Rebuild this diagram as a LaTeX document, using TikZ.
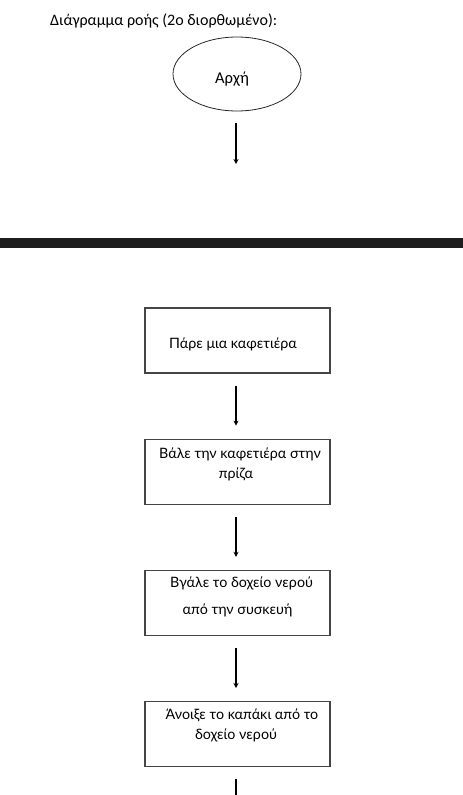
\documentclass[tikz,border=0pt]{standalone}
\usepackage{fontspec}
\setmainfont{Lato}
\newfontfamily\titlefont{Carlito}
\usetikzlibrary{positioning,arrows.meta,shapes.geometric}
\definecolor{barcolor}{HTML}{1E1E1E}
\definecolor{framecolor}{HTML}{454545}

\begin{document}
\begin{tikzpicture}[x=1pt,y=-1pt,
    stepbox/.style={draw=framecolor, line width=1.2pt, minimum width=185pt, minimum height=65pt, inner sep=0pt},
    boxtext/.style={anchor=base, inner sep=0pt, font=\fontsize{14.3}{17}\selectfont},
    flowarrow/.style={line width=1.6pt, -{Stealth[length=5pt,width=5pt]}, shorten <=12pt, shorten >=13pt}]
    \clip (0,0) rectangle (463,795);

    % Title
    \node[anchor=base west, inner sep=0pt, font=\titlefont\fontsize{16}{20}\selectfont] (title) at (50,25.7) {Διάγραμμα ροής (2ο διορθωμένο):};

    % Start
    \node[draw=black!85, line width=0.8pt, ellipse, minimum width=128pt, minimum height=74pt] (start) at (237,74) {};
    \node[anchor=base, inner sep=0pt, font=\titlefont\fontsize{16.5}{20}\selectfont] (starttext) at ([xshift=-5pt,yshift=-9pt]start.center) {Αρχή};
    \coordinate (startend) at (236,177);
    \draw[flowarrow] ([xshift=-1pt]start.south) -- (startend);

    % Page break bar
    \fill[barcolor] (0,238) rectangle (463,248);

    % Steps
    \node[stepbox] (box1) at (237.5,340.5) {};
    \node[stepbox, below=65pt of box1] (box2) {};
    \node[stepbox, below=65pt of box2] (box3) {};
    \node[stepbox, below=65pt of box3] (box4) {};

    \node[boxtext] (t1) at ([xshift=-4.5pt,yshift=-41pt]box1.north) {Πάρε μια καφετιέρα};
    \node[boxtext] (t2a) at ([xshift=2.5pt,yshift=-20pt]box2.north) {Βάλε την καφετιέρα στην};
    \node[boxtext] (t2b) at ([xshift=-1.5pt,yshift=-40pt]box2.north) {πρίζα};
    \node[boxtext] (t3a) at ([xshift=4pt,yshift=-18pt]box3.north) {Βγάλε το δοχείο νερού};
    \node[boxtext] (t3b) at ([xshift=0pt,yshift=-45pt]box3.north) {από την συσκευή};
    \node[boxtext] (t4a) at ([xshift=4.5pt,yshift=-18pt]box4.north) {Άνοιξε το καπάκι από το};
    \node[boxtext] (t4b) at ([xshift=-1.5pt,yshift=-38pt]box4.north) {δοχείο νερού};

    % Arrows
    \draw[flowarrow] ([xshift=-1.5pt]box1.south) -- ([xshift=-1.5pt]box2.north);
    \draw[flowarrow] ([xshift=-1.5pt]box2.south) -- ([xshift=-1.5pt]box3.north);
    \draw[flowarrow] ([xshift=-1.5pt]box3.south) -- ([xshift=-1.5pt]box4.north);
    \coordinate (box4end) at ([xshift=-1.5pt,yshift=-66pt]box4.south);
    \draw[flowarrow] ([xshift=-1.5pt]box4.south) -- (box4end);
\end{tikzpicture}
\end{document}
